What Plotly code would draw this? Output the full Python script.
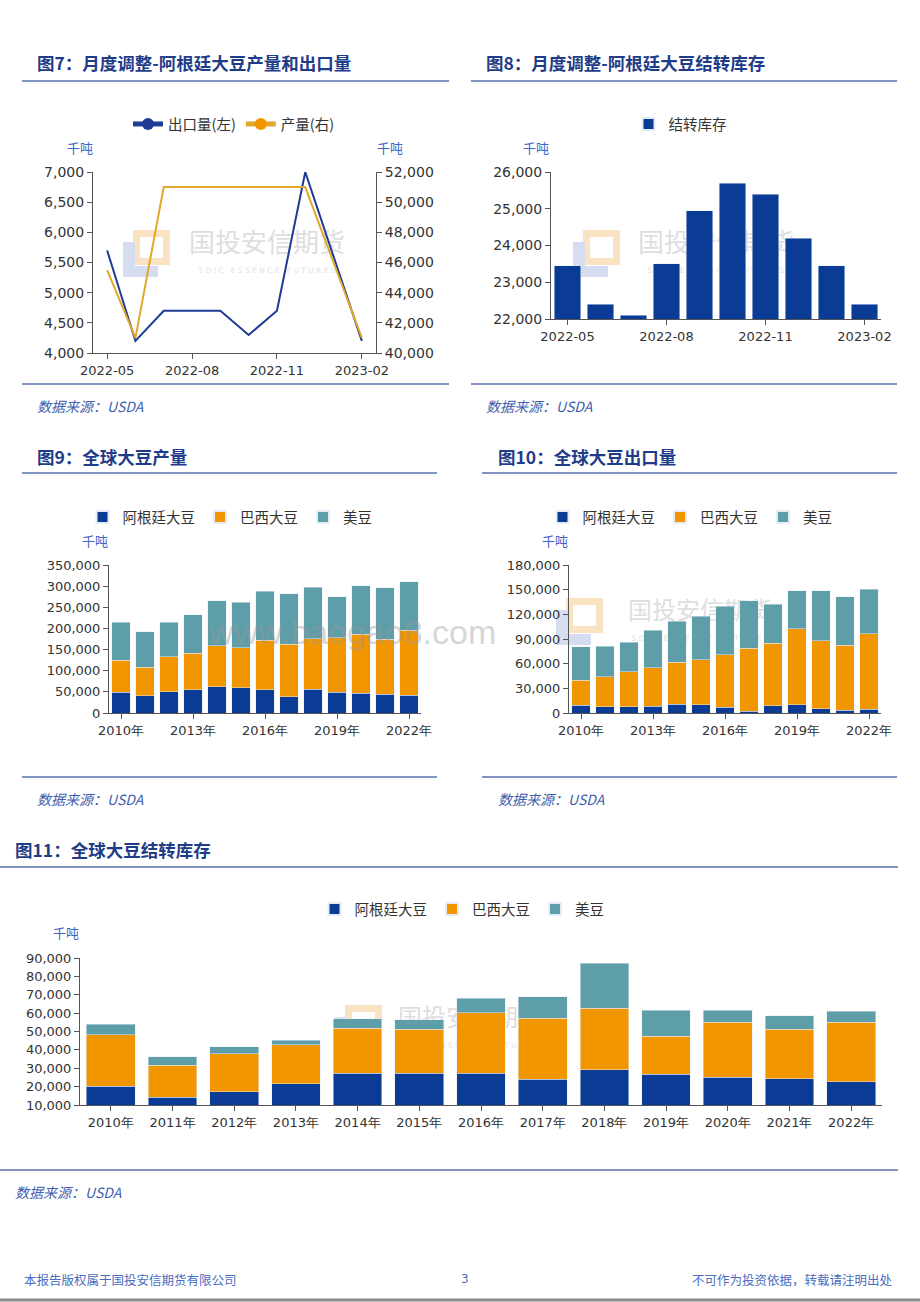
import plotly.graph_objects as go

# ---------------- data ----------------
months = ['2022-05', '2022-06', '2022-07', '2022-08', '2022-09', '2022-10',
          '2022-11', '2022-12', '2023-01', '2023-02']
month_ticks = ['2022-05', '2022-08', '2022-11', '2023-02']
ar_export = [5700, 4200, 4700, 4700, 4700, 4300, 4700, 7000, 5600, 4200]
ar_prod = [45500, 41000, 51000, 51000, 51000, 51000, 51000, 51000, 46000, 41000]
ar_stock = [23450, 22400, 22100, 23500, 24950, 25700, 25400, 24200, 23450, 22400]

years = ['2010年', '2011年', '2012年', '2013年', '2014年', '2015年', '2016年',
         '2017年', '2018年', '2019年', '2020年', '2021年', '2022年']
year_ticks = ['2010年', '2013年', '2016年', '2019年', '2022年']

prod_ar = [49500, 40300, 49800, 54500, 62000, 59200, 55300, 38700, 56100, 49000, 46600, 44200, 41500]
prod_br = [75500, 68000, 83000, 86500, 97500, 95500, 117000, 124000, 120000, 129500, 140000, 130500, 154000]
prod_us = [90000, 83700, 82100, 91600, 106000, 107400, 115300, 119300, 120900, 96400, 114500, 121600, 115300]

exp_ar = [9300, 7700, 7700, 8100, 10600, 9800, 7000, 2400, 8900, 9800, 5300, 3200, 4500]
exp_br = [30600, 36200, 42700, 47200, 51200, 54800, 64100, 76500, 75700, 92600, 82500, 79300, 91800]
exp_us = [40700, 37000, 35800, 45100, 50000, 53300, 59000, 57700, 47500, 46000, 61000, 59000, 54500]

stk_ar = [20300, 14150, 17200, 21550, 27150, 27150, 27150, 23900, 29100, 26800, 25150, 24250, 22650]
stk_br = [27800, 17500, 20600, 21300, 24750, 24200, 33000, 33200, 33600, 20700, 29800, 27100, 32500]
stk_us = [5800, 4700, 3800, 2350, 5050, 5050, 7950, 11900, 24550, 14100, 6650, 7200, 5950]

names3 = ['阿根廷大豆', '巴西大豆', '美豆']

# ---------------- style ----------------
W, H = 920, 1302
BLUE = '#0A3C96'
ORANGE = '#F29600'
TEAL = '#5E9EA8'
LINE_BLUE = '#1E3C96'
LINE_GOLD = '#E3A82B'
TITLE_C = '#1F3C88'
RULE_C = '#5A6FAE'
SRC_C = '#3F5FAE'
TICK_C = '#333333'
CJK = 'Noto Sans CJK SC'


def px(x):
    return x / W


def py(y):
    return 1 - y / H


fig = go.Figure()

# chart 7
fig.add_trace(go.Scatter(x=months, y=ar_export, name='出口量(左)', mode='lines+markers',
                         line=dict(color=LINE_BLUE, width=2), marker=dict(size=0.1, color=LINE_BLUE),
                         xaxis='x', yaxis='y', legend='legend'))
fig.add_trace(go.Scatter(x=months, y=ar_prod, name='产量(右)', mode='lines+markers',
                         line=dict(color=LINE_GOLD, width=2), marker=dict(size=0.1, color=ORANGE),
                         xaxis='x', yaxis='y2', legend='legend'))
# chart 8
fig.add_trace(go.Bar(x=months, y=ar_stock, name='结转库存', marker_color=BLUE,
                     xaxis='x2', yaxis='y3', legend='legend2'))
# chart 9
for nm, vals, c in zip(names3, [prod_ar, prod_br, prod_us], [BLUE, ORANGE, TEAL]):
    fig.add_trace(go.Bar(x=years, y=vals, name=nm, marker_color=c,
                         xaxis='x3', yaxis='y4', legend='legend3'))
# chart 10
for nm, vals, c in zip(names3, [exp_ar, exp_br, exp_us], [BLUE, ORANGE, TEAL]):
    fig.add_trace(go.Bar(x=years, y=vals, name=nm, marker_color=c,
                         xaxis='x4', yaxis='y5', legend='legend4'))
# chart 11
for nm, vals, c in zip(names3, [stk_ar, stk_br, stk_us], [BLUE, ORANGE, TEAL]):
    fig.add_trace(go.Bar(x=years, y=vals, name=nm, marker_color=c,
                         xaxis='x5', yaxis='y6', legend='legend5'))

axis_common = dict(showline=True, linecolor='#555555', linewidth=1, ticks='outside',
                   ticklen=5, tickcolor='#555555', showgrid=False, zeroline=False,
                   automargin=False,
                   tickfont=dict(family='DejaVu Sans', size=13, color=TICK_C))

xcat = dict(axis_common, type='category')

legend_common = dict(orientation='h', xanchor='center', yanchor='middle', traceorder='normal',
                     font=dict(family=CJK, size=14.5, color='#333333'),
                     bgcolor='rgba(0,0,0,0)', itemsizing='constant')

fig.update_layout(
    width=W, height=H, margin=dict(l=0, r=0, t=0, b=0, pad=0, autoexpand=False),
    paper_bgcolor='white', plot_bgcolor='rgba(0,0,0,0)',
    barmode='stack', bargap=0.21,
    # chart 7
    xaxis=dict(xcat, domain=[px(93), px(376)], anchor='y', range=[-0.5, 9.5],
               tickvals=month_ticks, categoryarray=months),
    yaxis=dict(axis_common, domain=[py(353), py(172)], anchor='x', range=[4000, 7000],
               dtick=500, tickformat=',d', tickfont=dict(family='DejaVu Sans', size=14, color=TICK_C)),
    yaxis2=dict(axis_common, overlaying='y', side='right', anchor='x', range=[40000, 52000],
                dtick=2000, tickformat=',d', tickfont=dict(family='DejaVu Sans', size=14, color=TICK_C)),
    # chart 8
    xaxis2=dict(xcat, domain=[px(551), px(881)], anchor='y3', range=[-0.5, 9.5],
                tickvals=month_ticks, categoryarray=months),
    yaxis3=dict(axis_common, domain=[py(319), py(172)], anchor='x2', range=[22000, 26000],
                dtick=1000, tickformat=',d', tickfont=dict(family='DejaVu Sans', size=14, color=TICK_C)),
    # chart 9
    xaxis3=dict(xcat, domain=[px(109), px(421)], anchor='y4', range=[-0.5, 12.5],
                tickvals=year_ticks, categoryarray=years),
    yaxis4=dict(axis_common, domain=[py(713), py(565)], anchor='x3', range=[0, 350000],
                dtick=50000, tickformat=',d'),
    # chart 10
    xaxis4=dict(xcat, domain=[px(569), px(881)], anchor='y5', range=[-0.5, 12.5],
                tickvals=year_ticks, categoryarray=years),
    yaxis5=dict(axis_common, domain=[py(713), py(565)], anchor='x4', range=[0, 180000],
                dtick=30000, tickformat=',d'),
    # chart 11
    xaxis5=dict(xcat, domain=[px(80), px(882)], anchor='y6', range=[-0.5, 12.5],
                categoryarray=years),
    yaxis6=dict(axis_common, domain=[py(1105), py(958)], anchor='x5', range=[10000, 90000],
                dtick=10000, tickformat=',d'),
    legend=dict(legend_common, x=px(234), y=py(124)),
    legend2=dict(legend_common, x=px(680), y=py(124)),
    legend3=dict(legend_common, x=px(230), y=py(517)),
    legend4=dict(legend_common, x=px(690), y=py(517)),
    legend5=dict(legend_common, x=px(462), y=py(909)),
)

shapes = []
annotations = []


def rule(x0, x1, y, color=RULE_C, width=1.5):
    shapes.append(dict(type='line', xref='paper', yref='paper', x0=px(x0), x1=px(x1),
                       y0=py(y), y1=py(y), line=dict(color=color, width=width)))


def text(x, y, s, size=13, color='#333', bold=False, italic=False, xanchor='left', family=CJK, opacity=1):
    if bold:
        s = '<b>' + s + '</b>'
    if italic:
        s = '<i>' + s + '</i>'
    annotations.append(dict(x=px(x), y=py(y), xref='paper', yref='paper', text=s, showarrow=False,
                            xanchor=xanchor, yanchor='middle', opacity=opacity, borderpad=0,
                            font=dict(family=family, size=size, color=color)))


def watermark(lx, ty, tx, size=26):
    """faint company logo + name drawn beneath the data (layer below)."""
    shapes.append(dict(type='rect', xref='paper', yref='paper', layer='below',
                       x0=px(lx + 13.5), x1=px(lx + 43.5), y0=py(ty + 31.5), y1=py(ty + 3.5),
                       line=dict(color='#FAE3C2', width=7), fillcolor='rgba(0,0,0,0)'))
    shapes.append(dict(type='rect', xref='paper', yref='paper', layer='below',
                       x0=px(lx), x1=px(lx + 12), y0=py(ty + 47), y1=py(ty + 12),
                       line=dict(width=0), fillcolor='#D6DDF0'))
    shapes.append(dict(type='rect', xref='paper', yref='paper', layer='below',
                       x0=px(lx), x1=px(lx + 35), y0=py(ty + 47), y1=py(ty + 36),
                       line=dict(width=0), fillcolor='#D6DDF0'))
    shapes.append(dict(type='rect', xref='paper', yref='paper', layer='below',
                       x0=px(tx - 80), x1=px(tx + 80), y0=py(ty + 28), y1=py(ty + 0),
                       line=dict(width=0), fillcolor='rgba(0,0,0,0)',
                       label=dict(text='国投安信期货', font=dict(family=CJK, size=size, color='#DEDEDE'),
                                  textposition='middle center')))
    shapes.append(dict(type='rect', xref='paper', yref='paper', layer='below',
                       x0=px(tx - 80), x1=px(tx + 80), y0=py(ty + 46), y1=py(ty + 34),
                       line=dict(width=0), fillcolor='rgba(0,0,0,0)',
                       label=dict(text='S D I C   E S S E N C E   F U T U R E S',
                                  font=dict(family='DejaVu Sans', size=7.5, color='#E2E2E2'),
                                  textposition='middle center')))


watermark(123, 230, 267)
watermark(573, 230, 716)
watermark(556, 598, 700, 24)
watermark(335, 1005, 470, 24)

# titles & rules
text(36, 63, '图7：月度调整-阿根廷大豆产量和出口量', 17.5, TITLE_C, bold=True)
rule(22, 449, 81)
text(485, 63, '图8：月度调整-阿根廷大豆结转库存', 17.5, TITLE_C, bold=True)
rule(471, 897, 81)
text(36, 456, '图9：全球大豆产量', 17.5, TITLE_C, bold=True)
rule(22, 437, 473)
text(497, 456, '图10：全球大豆出口量', 17.5, TITLE_C, bold=True)
rule(482, 897, 473)
text(14, 849, '图11：全球大豆结转库存', 17.5, TITLE_C, bold=True)
rule(0, 898, 867)

# bottom rules
rule(22, 449, 384)
rule(471, 897, 384)
rule(22, 437, 777)
rule(482, 897, 777)
rule(0, 898, 1170)

# units
text(80, 147, '千吨', 13, '#3F63C8', xanchor='center')
text(390, 147, '千吨', 13, '#3F63C8', xanchor='center')
text(536, 147, '千吨', 13, '#3F63C8', xanchor='center')
text(95, 540, '千吨', 13, '#3F63C8', xanchor='center')
text(555, 540, '千吨', 13, '#3F63C8', xanchor='center')
text(66, 932, '千吨', 13, '#3F63C8', xanchor='center')

# sources
for (x, y) in [(36, 406), (485, 406), (36, 799), (497, 799), (14, 1192)]:
    text(x, y, '数据来源：USDA', 14, SRC_C, italic=True)

# site watermark over chart 9 (kept clear of chart 10's tick labels)
text(352, 632, 'www.baogao8.com', 34, '#9A9A9A', xanchor='center', family='Liberation Sans', opacity=0.4)

# footer
text(23, 1279, '本报告版权属于国投安信期货有限公司', 12.5, '#4A6CC0')
text(465, 1279, '3', 12, '#4A6CC0', xanchor='center', family='DejaVu Sans')
text(894, 1279, '不可作为投资依据，转载请注明出处', 12.5, '#4A6CC0', xanchor='right')
shapes.append(dict(type='line', xref='paper', yref='paper', x0=0, x1=1, y0=py(1300), y1=py(1300),
                   line=dict(color='#8A8A8A', width=3)))

fig.update_layout(shapes=shapes, annotations=annotations)

fig.write_html('out.html', config={'displayModeBar': False},
               post_script="document.body.style.margin='0';document.body.style.overflow='hidden';")
